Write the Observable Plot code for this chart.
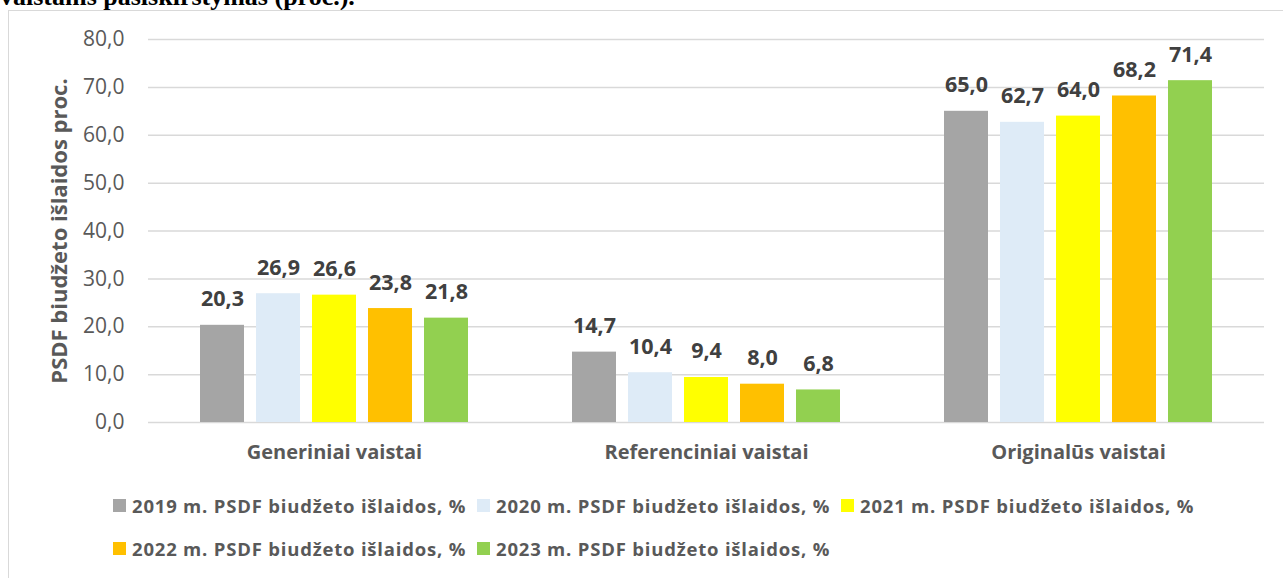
<!DOCTYPE html>
<html>
<head>
<meta charset="utf-8">
<script src="https://cdn.jsdelivr.net/npm/d3@7"></script>
<script src="https://cdn.jsdelivr.net/npm/@observablehq/plot@0.6"></script>
<style>
  html, body { margin: 0; padding: 0; background: #fff; }
  #wrap { position: relative; width: 1283px; height: 578px; overflow: hidden; background: #fff; }
  #title { position: absolute; left: 0; top: -16px; font-family: "Liberation Serif", "Times New Roman", serif; font-weight: bold; font-size: 26px; line-height: 26px; color: #000; white-space: nowrap; }
  #frame { position: absolute; left: 8px; top: 10px; width: 1400px; height: 700px; border: 1px solid #d9d9d9; box-sizing: border-box; }
  #chart { position: absolute; left: 0; top: 0; }
  #legend { position: absolute; left: 0; top: 0; width: 1283px; height: 578px; pointer-events: none; }
  .item { position: absolute; display: flex; align-items: center; height: 20px; font-family: "Open Sans", sans-serif; font-weight: bold; font-size: 18.5px; letter-spacing: 0.8px; color: #595959; white-space: nowrap; }
  .sw { width: 13px; height: 13px; margin-right: 6px; flex: none; }
</style>
</head>
<body>
<div id="wrap">
  <div id="title">vaistams pasiskirstymas (proc.).</div>
  <div id="frame"></div>
  <div id="chart"></div>
  <div id="legend"></div>
</div>
<script>
const categories = ["Generiniai vaistai", "Referenciniai vaistai", "Originalūs vaistai"];
const series = [
  "2019 m. PSDF biudžeto išlaidos, %",
  "2020 m. PSDF biudžeto išlaidos, %",
  "2021 m. PSDF biudžeto išlaidos, %",
  "2022 m. PSDF biudžeto išlaidos, %",
  "2023 m. PSDF biudžeto išlaidos, %"
];
const colors = ["#a5a5a5", "#deebf7", "#ffff00", "#ffc000", "#92d050"];
const values2019 = [20.3, 14.7, 65.0];
const values2020 = [26.9, 10.4, 62.7];
const values2021 = [26.6, 9.4, 64.0];
const values2022 = [23.8, 8.0, 68.2];
const values2023 = [21.8, 6.8, 71.4];
const yTicks = [0, 10, 20, 30, 40, 50, 60, 70, 80];
const yLabel = "PSDF biudžeto išlaidos proc.";

const seriesValues = [values2019, values2020, values2021, values2022, values2023];
const data = [];
series.forEach((s, si) => {
  categories.forEach((c, ci) => {
    data.push({category: c, series: s, value: seriesValues[si][ci]});
  });
});
const fmt = d => d.toFixed(1).replace(".", ",");

const chart = Plot.plot({
  width: 1283,
  height: 480,
  marginLeft: 147,
  marginRight: 18,
  marginTop: 39,
  marginBottom: 58,
  style: {fontFamily: "'Open Sans', sans-serif", fontSize: "20px", color: "#595959", background: "transparent", overflow: "visible"},
  fx: {domain: categories, padding: 0, label: null, axis: null},
  x: {domain: series, paddingInner: 0.21, paddingOuter: 0.875, axis: null},
  y: {domain: [0, 80], axis: null},
  color: {domain: series, range: colors},
  marks: [
    Plot.ruleY(yTicks, {stroke: "#d9d9d9", strokeWidth: 1.5}),
    Plot.barY(data, {fx: "category", x: "series", y: "value", fill: "series"}),
    Plot.text(data, {fx: "category", x: "series", y: "value", text: d => fmt(d.value), dy: -19, lineAnchor: "bottom", fontWeight: "bold", fill: "#404040", fontSize: 21.5}),
    Plot.axisFx({domain: categories, anchor: "bottom", tickSize: 0, tickPadding: 22, fontWeight: "bold", fontSize: 20, fill: "#595959", label: null}),
    Plot.axisY({ticks: yTicks, anchor: "left", tickSize: 0, tickPadding: 24, tickFormat: fmt, fontSize: 21, fill: "#595959", label: null}),
    Plot.text([yLabel], {frameAnchor: "left", facetAnchor: "left", rotate: -90, dx: -89, text: d => d, fontWeight: "bold", fontSize: 22, fill: "#595959", lineAnchor: "middle", textAnchor: "middle"})
  ]
});
document.getElementById("chart").appendChild(chart);

const legend = document.getElementById("legend");
series.forEach((s, i) => {
  const col = i % 3, row = Math.floor(i / 3);
  const item = document.createElement("div");
  item.className = "item";
  item.style.left = (113 + 364 * col) + "px";
  item.style.top = (495 + 43 * row) + "px";
  const sw = document.createElement("span");
  sw.className = "sw";
  sw.style.background = colors[i];
  const tx = document.createElement("span");
  tx.textContent = s;
  item.appendChild(sw);
  item.appendChild(tx);
  legend.appendChild(item);
});
</script>
</body>
</html>
